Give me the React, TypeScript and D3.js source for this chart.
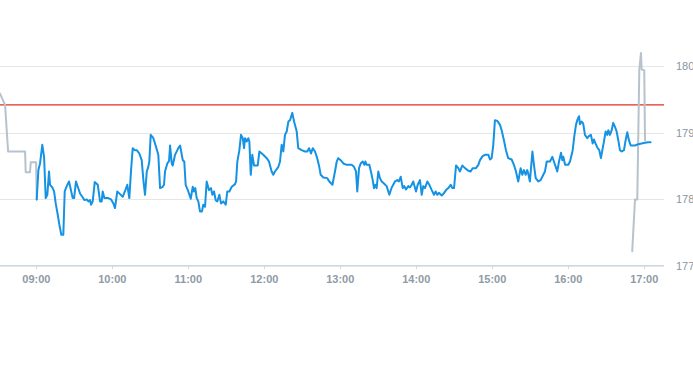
import React from "react";
import * as d3 from "d3";

// time in minutes since midnight, value in price
const preTimes = [511.3, 515.3, 517.7, 531.1, 531.6, 535.0, 535.6, 539.8, 540.3];
const preValues = [179.59, 179.42, 178.72, 178.72, 178.41, 178.41, 178.56, 178.56, 178.0];

const mainTimes = [
  540.3, 541.6, 542.9, 544.7, 546.1, 547.4, 548.7, 550.0, 550.8, 552.6, 554.0, 555.3, 556.9, 558.2, 559.7, 561.3,
  562.4, 564.0, 565.8, 567.2, 568.7, 569.8, 571.3, 572.7, 574.5, 576.3, 577.9, 579.8, 581.1, 582.4, 583.2, 584.5,
  586.1, 588.5, 590.3, 591.6, 592.4, 593.7, 596.8, 599.0, 600.8, 602.1, 603.9, 606.1, 608.2, 610.3, 611.8, 613.4,
  614.8, 616.1, 617.9, 619.3, 621.3, 623.2, 624.5, 625.8, 627.2, 628.4, 629.2, 630.3, 632.4, 634.5, 636.3, 637.7,
  639.8, 640.8, 641.6, 643.4, 644.8, 645.6, 646.9, 647.7, 649.5, 652.1, 653.5, 655.6, 656.8, 657.9, 660.0, 661.9,
  663.5, 664.5, 665.5, 666.6, 667.9, 669.2, 670.8, 671.8, 673.2, 674.5, 676.3, 677.9, 679.0, 680.3, 681.6, 682.9,
  684.5, 685.8, 687.6, 689.5, 690.8, 692.4, 694.3, 696.9, 697.7, 698.7, 700.3, 701.6, 703.0, 704.0, 704.8, 706.1,
  707.4, 708.2, 709.3, 710.5, 711.9, 714.8, 716.1, 719.2, 721.9, 723.7, 725.8, 727.1, 728.4, 731.1, 732.4, 733.7,
  735.0, 736.3, 737.7, 739.0, 740.3, 742.1, 743.5, 745.6, 746.8, 749.5, 752.1, 753.9, 755.3, 756.9, 758.2, 760.0,
  761.8, 763.4, 764.5, 766.6, 769.7, 771.3, 773.8, 775.8, 777.2, 778.4, 780.3, 782.4, 785.1, 789.0, 790.8, 792.4,
  793.4, 794.8, 796.1, 797.7, 799.0, 799.8, 800.8, 802.9, 804.2, 805.6, 806.6, 807.4, 808.7, 810.0, 811.3, 812.7,
  814.5, 816.6, 818.7, 820.6, 823.2, 825.0, 826.3, 827.7, 829.3, 830.5, 831.9, 833.7, 835.0, 836.4, 837.6, 839.8,
  841.1, 842.9, 844.3, 845.5, 846.9, 848.7, 850.3, 852.2, 854.0, 855.3, 856.6, 857.9, 860.1, 861.3, 863.5, 865.3,
  867.2, 868.5, 869.8, 871.4, 873.2, 874.5, 876.3, 878.5, 881.1, 882.9, 884.5, 887.1, 889.0, 890.3, 892.4, 894.2,
  896.9, 898.2, 899.5, 900.8, 902.1, 904.0, 906.1, 907.4, 909.2, 910.8, 912.6, 915.3, 917.1, 918.7, 920.5, 922.4,
  923.7, 925.0, 926.4, 927.6, 928.4, 929.7, 931.7, 932.9, 934.3, 936.3, 938.2, 940.3, 941.6, 943.0, 945.6, 947.4,
  948.7, 950.1, 951.3, 952.7, 954.3, 955.3, 956.1, 957.5, 960.0, 961.4, 963.5, 964.7, 966.1, 967.1, 968.5, 969.2,
  970.6, 971.8, 973.2, 975.0, 976.3, 977.9, 979.3, 980.3, 981.6, 983.2, 984.5, 985.8, 987.2, 988.2, 989.5, 990.8,
  991.6, 992.9, 994.3, 995.5, 996.9, 998.2, 999.5, 1000.8, 1002.2, 1004.0, 1005.3, 1006.6, 1007.9, 1009.3, 1012.7,
  1015.3, 1017.9, 1020.5, 1023.1, 1025.0,
];
const mainValues = [
  178.0, 178.44, 178.54, 178.82, 178.64, 178.02, 178.07, 178.42, 178.22, 178.18, 178.12, 177.94, 177.77, 177.62, 177.47, 177.47,
  178.12, 178.2, 178.27, 178.15, 178.02, 178.02, 178.27, 178.19, 178.09, 178.04, 177.99, 178.0, 177.97, 177.99, 177.92, 177.97,
  178.26, 178.22, 177.97, 177.97, 178.12, 178.02, 178.02, 178.0, 177.94, 177.87, 178.12, 178.08, 178.04, 178.14, 178.22, 178.02,
  178.44, 178.77, 178.74, 178.74, 178.69, 178.59, 178.29, 178.07, 178.42, 178.49, 178.57, 178.97, 178.92, 178.79, 178.67, 178.17,
  178.19, 178.22, 178.42, 178.54, 178.58, 178.81, 178.54, 178.51, 178.67, 178.77, 178.81, 178.59, 178.57, 178.22, 178.12, 178.01,
  178.19, 178.12, 178.17, 178.02, 177.97, 177.82, 177.82, 177.92, 177.89, 178.27, 178.14, 178.17, 178.07, 178.12, 177.99, 177.97,
  178.07, 177.94, 177.97, 177.92, 178.12, 178.12, 178.19, 178.23, 178.27, 178.57, 178.74, 178.97, 178.92, 178.77, 178.92, 178.87,
  178.92, 178.87, 178.37, 178.67, 178.51, 178.51, 178.72, 178.67, 178.62, 178.57, 178.42, 178.37, 178.42, 178.49, 178.57, 178.82,
  178.72, 178.97, 179.02, 179.17, 179.19, 179.3, 179.17, 179.02, 178.77, 178.74, 178.72, 178.72, 178.77, 178.69, 178.77, 178.72,
  178.62, 178.49, 178.37, 178.33, 178.32, 178.27, 178.22, 178.42, 178.57, 178.62, 178.59, 178.54, 178.52, 178.52, 178.49, 178.42,
  178.12, 178.47, 178.54, 178.57, 178.52, 178.57, 178.52, 178.52, 178.42, 178.29, 178.17, 178.22, 178.17, 178.42, 178.32, 178.27,
  178.24, 178.2, 178.07, 178.18, 178.27, 178.29, 178.27, 178.34, 178.17, 178.2, 178.15, 178.2, 178.18, 178.22, 178.27, 178.12,
  178.22, 178.29, 178.07, 178.2, 178.17, 178.27, 178.22, 178.14, 178.07, 178.12, 178.07, 178.1, 178.06, 178.08, 178.14, 178.17,
  178.22, 178.17, 178.17, 178.51, 178.47, 178.42, 178.51, 178.47, 178.43, 178.42, 178.47, 178.47, 178.52, 178.59, 178.65, 178.67,
  178.67, 178.6, 178.62, 178.82, 179.19, 179.18, 179.12, 179.04, 178.89, 178.74, 178.62, 178.6, 178.52, 178.42, 178.27, 178.47,
  178.37, 178.44, 178.37, 178.44, 178.39, 178.27, 178.72, 178.52, 178.32, 178.27, 178.29, 178.37, 178.42, 178.57, 178.57, 178.64,
  178.57, 178.49, 178.42, 178.57, 178.7, 178.59, 178.64, 178.52, 178.52, 178.57, 178.74, 178.94, 179.12, 179.19, 179.25, 179.13,
  179.17, 179.14, 178.97, 178.92, 178.95, 178.97, 178.84, 178.9, 178.84, 178.77, 178.74, 178.62, 178.77, 178.87, 179.02, 178.97,
  179.04, 178.97, 179.04, 179.15, 179.09, 179.02, 178.89, 178.74, 178.72, 178.74, 178.89, 179.01, 178.89, 178.81, 178.81,
  178.83, 178.84, 178.85, 178.86, 178.86,
];

const postTimes = [1010.5, 1012.7, 1014.5, 1016.1, 1017.4, 1018.0, 1020.0, 1020.6];
const postValues = [177.22, 178.0, 178.0, 179.95, 180.2, 179.95, 179.94, 178.89];

const previousClose = 179.42;
const yTicks = [177, 178, 179, 180];
const xTicks = [540, 600, 660, 720, 780, 840, 900, 960, 1020];
const xTickLabels = ["09:00", "10:00", "11:00", "12:00", "13:00", "14:00", "15:00", "16:00", "17:00"];

const W = 693;
const H = 365;
const plotLeft = 0;
const plotRight = 664;
const plotTop = 0;
const plotBottom = 266;

export default function App() {
  const x = d3.scaleLinear().domain([511.3, 1035.6]).range([plotLeft, plotRight]);
  const y = d3.scaleLinear().domain([177, 180]).range([plotBottom, 66.3]);

  const line = d3
    .line<[number, number]>()
    .x((d) => x(d[0]))
    .y((d) => y(d[1]));

  const pre = preTimes.map((t, i) => [t, preValues[i]] as [number, number]);
  const main = mainTimes.map((t, i) => [t, mainValues[i]] as [number, number]);
  const post = postTimes.map((t, i) => [t, postValues[i]] as [number, number]);

  const font = "'Liberation Sans', Arial, Helvetica, sans-serif";
  const redY = y(previousClose);

  return (
    <svg
      width={W}
      height={H}
      style={{ position: "absolute", left: 0, top: 0, background: "#fff" }}
      fontFamily={font}
    >
      <defs>
        <clipPath id="plot">
          <rect x={plotLeft} y={plotTop} width={plotRight - plotLeft} height={plotBottom - plotTop} />
        </clipPath>
      </defs>
      {yTicks.map((v) => (
        <line key={v} x1={plotLeft} x2={plotRight} y1={Math.round(y(v)) + 0.5} y2={Math.round(y(v)) + 0.5} stroke="#e6e6e6" strokeWidth={1} />
      ))}
      <line x1={plotLeft} x2={plotRight} y1={plotBottom - 0.5} y2={plotBottom - 0.5} stroke="#ccd6eb" strokeWidth={1} />
      {xTicks.map((t, i) => (
        <g key={t}>
          <line x1={Math.round(x(t)) + 0.5} x2={Math.round(x(t)) + 0.5} y1={plotBottom} y2={plotBottom + 3} stroke="#ccd6eb" />
          <text x={x(t)} y={283} textAnchor="middle" fontSize={11} fontWeight="bold" fill="#8f9aa6">
            {xTickLabels[i]}
          </text>
        </g>
      ))}
      {yTicks.map((v) => (
        <text key={v} x={676} y={y(v) + 4} fontSize={11} fill="#8a96a2">
          {v}
        </text>
      ))}
      <line x1={plotLeft} x2={plotRight} y1={redY} y2={redY} stroke="#e0301e" strokeWidth={1.2} />
      <g clipPath="url(#plot)" fill="none" strokeLinejoin="round" strokeLinecap="round">
        <path d={line(pre) || ""} stroke="#b6c3cd" strokeWidth={2} />
        <path d={line(post) || ""} stroke="#b6c3cd" strokeWidth={2} />
        <path d={line(main) || ""} stroke="#1592e3" strokeWidth={2} />
      </g>
    </svg>
  );
}
